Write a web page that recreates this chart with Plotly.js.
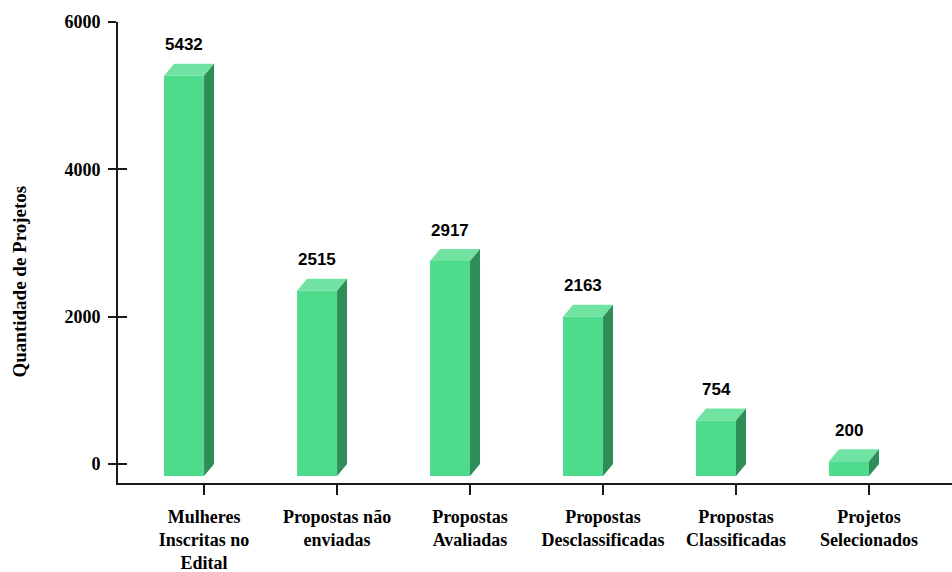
<!DOCTYPE html>
<html>
<head>
<meta charset="utf-8">
<script src="https://cdn.plot.ly/plotly-3.0.1.min.js"></script>
<style>html,body{margin:0;padding:0;background:#fff;}#chart{width:952px;height:572px;}</style>
</head>
<body>
<div id="chart"></div>
<script>
// ---- data ----
const categories = [
  "Mulheres<br>Inscritas no<br>Edital",
  "Propostas não<br>enviadas",
  "Propostas<br>Avaliadas",
  "Propostas<br>Desclassificadas",
  "Propostas<br>Classificadas",
  "Projetos<br>Selecionados"
];
const values = [5432, 2515, 2917, 2163, 754, 200];
const yTicks = [0, 2000, 4000, 6000];
const yTitle = "Quantidade de Projetos";

// ---- style / layout constants ----
const W = 952, H = 572;
const M = {l: 118, r: 0, t: 22, b: 89};
const xRange = [-0.647, 5.624];
const yRange = [-258, 6000];
const frontPx = 40, depthX = 10, depthY = 12;
const cFront = "#4edb8c", cTop = "#70e3a2", cSide = "#2f8e58";
const axisColor = "#1a1a1a";
const serif = "Liberation Serif, Times New Roman, serif";
const sans = "Liberation Sans, Arial, sans-serif";

const plotW = W - M.l - M.r, plotH = H - M.t - M.b;
const pxPerX = plotW / (xRange[1] - xRange[0]);
const D = depthY * (yRange[1] - yRange[0]) / plotH; // depth in data units
const barW = frontPx / pxPerX;
const idx = categories.map((_, i) => i);

const traces = [
  {
    type: "bar", x: idx, y: values, base: values.map(() => -D),
    width: barW, offset: -barW,
    marker: {color: cFront, line: {width: 0}},
    hoverinfo: "skip", showlegend: false
  },
  { type: "scatter", x: [null], y: [null], yaxis: "y2", hoverinfo: "skip", showlegend: false }
];

const shapes = [];
values.forEach((v, i) => {
  shapes.push({
    type: "path", xref: "x", yref: "y", xsizemode: "pixel", xanchor: i, ysizemode: "scaled",
    path: `M${-frontPx},${v - D} L0,${v - D} L${depthX},${v} L${-frontPx + depthX},${v} Z`,
    fillcolor: cTop, line: {width: 0}
  });
  shapes.push({
    type: "path", xref: "x", yref: "y", xsizemode: "pixel", xanchor: i, ysizemode: "scaled",
    path: `M0,${v - D} L${depthX},${v} L${depthX},0 L0,${-D} Z`,
    fillcolor: cSide, line: {width: 0}
  });
});

const annotations = values.map((v, i) => ({
  x: i, y: v, xref: "x", yref: "y", text: String(v), showarrow: false,
  xshift: -frontPx / 2, yshift: 19, yanchor: "middle",
  font: {family: sans, size: 17, color: "#000", weight: "bold"}
}));
annotations.push({
  xref: "paper", yref: "paper", x: (19 - M.l) / plotW, y: (H - M.b - 281.5) / plotH,
  text: yTitle, showarrow: false, textangle: -90, xanchor: "center", yanchor: "middle",
  font: {family: serif, size: 19, color: "#000", weight: "bold"}
});

const layout = {
  width: W, height: H, margin: M,
  paper_bgcolor: "#fff", plot_bgcolor: "#fff",
  showlegend: false,
  xaxis: {
    range: xRange, tickvals: idx, ticktext: categories,
    ticks: "outside", ticklen: 10, tickwidth: 2, tickcolor: axisColor,
    showline: true, linewidth: 2, linecolor: axisColor,
    showgrid: false, zeroline: false, ticklabelstandoff: 6,
    tickfont: {family: serif, size: 18, color: "#000", weight: "bold"}
  },
  yaxis: {
    range: yRange, tickvals: yTicks,
    ticks: "outside", ticklen: 8, tickwidth: 2, tickcolor: axisColor,
    showline: true, linewidth: 2, linecolor: axisColor,
    showgrid: false, zeroline: false, ticklabelstandoff: 4,
    tickfont: {family: serif, size: 18, color: "#000", weight: "bold"}
  },
  yaxis2: {
    overlaying: "y", side: "left", range: yRange, tickvals: yTicks,
    ticks: "inside", ticklen: 9, tickwidth: 2, tickcolor: axisColor,
    showticklabels: false, showline: false, showgrid: false, zeroline: false
  },
  shapes: shapes,
  annotations: annotations
};

Plotly.newPlot("chart", traces, layout, {staticPlot: true, displayModeBar: false});
</script>
</body>
</html>
